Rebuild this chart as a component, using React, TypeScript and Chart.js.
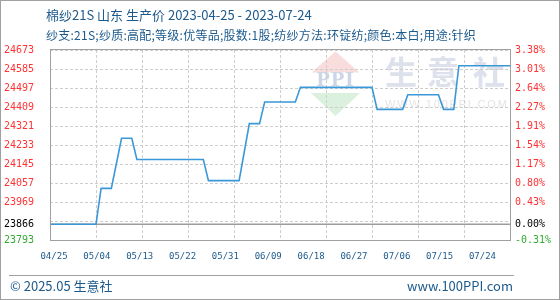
import React, { useEffect, useRef } from "react";
import { Chart, registerables } from "chart.js";

Chart.register(...registerables);

// Header / footer text
const titleLine = "棉纱21S 山东 生产价 2023-04-25 - 2023-07-24";
const specLine = "纱支:21S;纱质:高配;等级:优等品;股数:1股;纺纱方法:环锭纺;颜色:本白;用途:针织";
const footerLeft = "© 2025.05 生意社";
const footerRight = "www.100PPI.com";

// Price series (yuan/ton), listed at the dates where the quote changes
const startDate = "2023-04-25";
const endDate = "2023-07-24";
const priceDates = [
  "2023-04-25", "2023-05-04", "2023-05-05", "2023-05-07", "2023-05-09",
  "2023-05-11", "2023-05-12", "2023-05-25", "2023-05-26", "2023-06-01",
  "2023-06-03", "2023-06-05", "2023-06-06", "2023-06-12", "2023-06-13",
  "2023-06-27", "2023-06-28", "2023-07-03", "2023-07-04", "2023-07-10",
  "2023-07-11", "2023-07-13", "2023-07-14", "2023-07-24",
];
const prices = [
  23866, 23866, 24032, 24032, 24264,
  24264, 24166, 24166, 24068, 24068,
  24332, 24332, 24432, 24432, 24500,
  24500, 24398, 24398, 24466, 24466,
  24398, 24398, 24600, 24600,
];
const basePrice = 23866;

// Axis ticks
const xTickLabels = ["04/25", "05/04", "05/13", "05/22", "05/31", "06/09", "06/18", "06/27", "07/06", "07/15", "07/24"];
const yAxisMin = 23793;
const yAxisMax = 24673;
const yGridValues = [23793, 23881, 23969, 24057, 24145, 24233, 24321, 24409, 24497, 24585, 24673];
const yTickValues = [23793, 23866, 23969, 24057, 24145, 24233, 24321, 24409, 24497, 24585, 24673];
const pctTickLabels = ["-0.31%", "0.00%", "0.43%", "0.80%", "1.17%", "1.54%", "1.91%", "2.27%", "2.64%", "3.01%", "3.38%"];

const DAY_MS = 86400000;
const dayOf = (iso: string) => Math.round((Date.parse(iso) - Date.parse(startDate)) / DAY_MS);
const labelDay = (mmdd: string) => dayOf(`2023-${mmdd.replace("/", "-")}`);

const GRID = "#cdcdcd";
const TEXT_BLUE = "#1d5a8c";
const CJK = "'Noto Sans CJK SC', 'Noto Sans', sans-serif";
const MONO = "'DejaVu Sans Mono', 'Liberation Mono', monospace";

const allYTicks = Array.from(new Set([...yGridValues, ...yTickValues])).sort((a, b) => a - b);

const tickColor = (v: number) => (v > basePrice ? "#ff3333" : v === basePrice ? "#000000" : "#33aa33");

// Pale site logo behind the plot
const watermark = {
  id: "watermark",
  beforeDraw(chart: any) {
    const { ctx, chartArea } = chart;
    const { left, top } = chartArea;
    ctx.save();
    const cx = left + 285.5;
    ctx.fillStyle = "#f9dcdc";
    ctx.beginPath();
    ctx.moveTo(cx, top + 1.5);
    ctx.lineTo(cx - 24, top + 22.5);
    ctx.lineTo(cx + 24, top + 22.5);
    ctx.closePath();
    ctx.fill();
    ctx.fillStyle = "#dcf0de";
    ctx.beginPath();
    ctx.moveTo(cx - 24.5, top + 43);
    ctx.lineTo(cx + 24.5, top + 43);
    ctx.lineTo(cx, top + 66);
    ctx.closePath();
    ctx.fill();
    ctx.fillStyle = "#cdd6e7";
    ctx.font = "bold 18px 'DejaVu Serif', serif";
    ctx.textAlign = "center";
    ctx.textBaseline = "middle";
    (ctx as any).letterSpacing = "1px";
    ctx.fillText("PPI", cx, top + 31.5);
    (ctx as any).letterSpacing = "0px";
    ctx.fillStyle = "#dce1eb";
    ctx.font = `bold 32px ${CJK}`;
    const chars = ["生", "意", "社"];
    const offs = [351, 393, 439];
    chars.forEach((c, i) => ctx.fillText(c, left + offs[i], top + 22));
    ctx.fillStyle = "#e4e4e4";
    ctx.font = "11px 'Liberation Sans', sans-serif";
    ctx.textAlign = "left";
    (ctx as any).letterSpacing = "1.8px";
    ctx.fillText("WWW.100PPI.COM", left + 335, top + 54.5);
    ctx.restore();
  },
};

// Solid frame around the plot area
const plotFrame = {
  id: "plotFrame",
  afterDraw(chart: any) {
    const { ctx, chartArea } = chart;
    const { left, top, right, bottom } = chartArea;
    ctx.save();
    ctx.strokeStyle = "#a0a0a0";
    ctx.lineWidth = 1;
    ctx.strokeRect(left + 0.5, top - 0.5, right - left, bottom - top + 1);
    ctx.restore();
  },
};

export default function App() {
  const canvasRef = useRef<HTMLCanvasElement | null>(null);

  useEffect(() => {
    const canvas = canvasRef.current;
    if (!canvas) return;
    const lastDay = dayOf(endDate);
    const chart = new Chart(canvas, {
      type: "line",
      data: {
        datasets: [
          {
            label: "生产价",
            data: priceDates.map((d, i) => ({ x: dayOf(d), y: prices[i] })),
            borderColor: "#3a98d8",
            borderWidth: 1.6,
            pointRadius: 0,
            tension: 0,
            order: 1,
          },
          {
            label: "基准",
            data: [
              { x: 0, y: basePrice },
              { x: lastDay, y: basePrice },
            ],
            borderColor: "#9c9c9c",
            borderWidth: 1.4,
            pointRadius: 0,
            order: 2,
          },
        ],
      },
      options: {
        responsive: false,
        animation: false,
        devicePixelRatio: 1,
        layout: { padding: { top: 50, left: 0, right: 0, bottom: 0 } },
        plugins: { legend: { display: false }, tooltip: { enabled: false }, title: { display: false } },
        scales: {
          x: {
            type: "linear",
            position: "bottom",
            min: 0,
            max: lastDay,
            afterBuildTicks: (s: any) => {
              s.ticks = xTickLabels.map((l) => ({ value: labelDay(l) }));
            },
            ticks: { display: false },
            grid: { color: GRID, lineWidth: 1, drawTicks: false },
            border: { display: false, dash: [3, 2] },
            afterFit: (s: any) => {
              s.height = 0;
            },
          },
          xLabels: {
            type: "linear",
            position: "bottom",
            min: -0.0933,
            max: 10.642,
            afterBuildTicks: (s: any) => {
              s.ticks = xTickLabels.map((_, i) => ({ value: i }));
            },
            ticks: {
              callback: (v: any) => xTickLabels[v] ?? "",
              color: TEXT_BLUE,
              font: { family: MONO, size: 9 },
              padding: 11,
              autoSkip: false,
              maxRotation: 0,
            },
            grid: { display: false, drawTicks: false },
            border: { display: false },
            afterFit: (s: any) => {
              s.height = 60;
            },
          },
          y: {
            type: "linear",
            position: "left",
            min: yAxisMin,
            max: yAxisMax,
            afterBuildTicks: (s: any) => {
              s.ticks = allYTicks.map((v) => ({ value: v }));
            },
            ticks: {
              callback: (v: any) => (yTickValues.includes(v) ? String(v) : ""),
              color: (c: any) => tickColor(c.tick?.value),
              font: { family: MONO, size: 10 },
              padding: 16,
              autoSkip: false,
            },
            grid: {
              color: (c: any) => (yGridValues.includes(c.tick?.value) ? GRID : "rgba(0,0,0,0)"),
              drawTicks: false,
            },
            border: { display: false, dash: [3, 2] },
            afterFit: (s: any) => {
              s.width = 50;
            },
          },
          y1: {
            type: "linear",
            position: "right",
            min: yAxisMin,
            max: yAxisMax,
            afterBuildTicks: (s: any) => {
              s.ticks = allYTicks.map((v) => ({ value: v }));
            },
            ticks: {
              callback: (v: any) => {
                const i = yTickValues.indexOf(v);
                return i >= 0 ? pctTickLabels[i] : "";
              },
              color: (c: any) => tickColor(c.tick?.value),
              font: { family: MONO, size: 10 },
              padding: 5,
              autoSkip: false,
            },
            grid: { drawOnChartArea: false, drawTicks: false },
            border: { display: false },
            afterFit: (s: any) => {
              s.width = 50;
            },
          },
        },
      } as any,
      plugins: [watermark, plotFrame],
    });
    return () => chart.destroy();
  }, []);

  return (
    <div
      style={{
        position: "fixed",
        left: 0,
        top: 0,
        width: 560,
        height: 300,
        background: "#ffffff",
        overflow: "hidden",
        fontFamily: CJK,
      }}
    >
      <canvas ref={canvasRef} width={560} height={300} style={{ position: "absolute", left: 0, top: 0, width: 560, height: 300 }} />
      <div style={{ position: "absolute", left: 46, top: 5, fontSize: 13, lineHeight: "20px", color: TEXT_BLUE, whiteSpace: "nowrap" }}>
        {titleLine}
      </div>
      <div
        style={{
          position: "absolute",
          left: 46,
          top: 25,
          fontSize: 12,
          letterSpacing: "0.25px",
          lineHeight: "20px",
          color: TEXT_BLUE,
          whiteSpace: "nowrap",
        }}
      >
        {specLine}
      </div>
      <div style={{ position: "absolute", left: 9, top: 275, width: 505, height: 1, background: "#a0a0a0" }} />
      <div style={{ position: "absolute", left: 10, top: 276, fontSize: 13, lineHeight: "20px", color: TEXT_BLUE, whiteSpace: "nowrap" }}>
        {footerLeft}
      </div>
      <div style={{ position: "absolute", right: 47, top: 276, fontSize: 13, lineHeight: "20px", color: TEXT_BLUE, whiteSpace: "nowrap" }}>
        {footerRight}
      </div>
      <div
        style={{
          position: "absolute",
          left: 0,
          top: 0,
          width: 560,
          height: 300,
          boxSizing: "border-box",
          border: "1px solid #a0a0a0",
          pointerEvents: "none",
        }}
      />
    </div>
  );
}
